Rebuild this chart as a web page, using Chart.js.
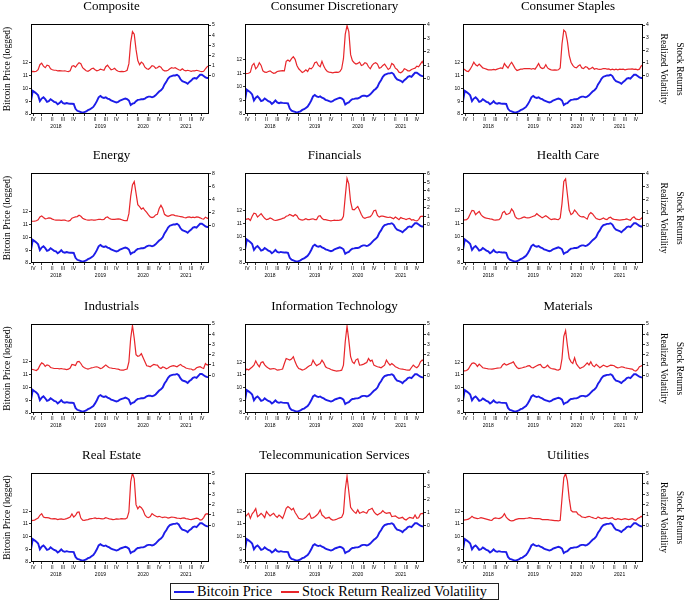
<!DOCTYPE html>
<html lang="en">
<head>
    <meta charset="UTF-8">
    <title>Bitcoin Price and Sector Stock Return Realized Volatility</title>
    <script src="https://cdn.jsdelivr.net/npm/chart.js"></script>
    <style>
        body { margin: 0; background: #fff; width: 685px; height: 601px; position: relative; overflow: hidden; }
        .panel { position: absolute; }
        #legend {
            position: absolute; left: 170px; top: 583px; width: 329px; height: 17px;
            box-sizing: border-box; border: 1.5px solid #222; display: flex; align-items: center;
            font-family: 'Liberation Serif', 'Times New Roman', serif; font-size: 14.3px; color: #000;
            white-space: nowrap;
        }
        #legend .sw { display: inline-block; height: 2px; margin: 0 3px 0 3px; }
    </style>
</head>
<body>
    <div id="legend"></div>

    <script>
        // ---- data ----
        const panelNames = ['Composite', 'Consumer Discretionary', 'Consumer Staples',
            'Energy', 'Financials', 'Health Care',
            'Industrials', 'Information Technology', 'Materials',
            'Real Estate', 'Telecommunication Services', 'Utilities'];
        const seriesLabels = ['Bitcoin Price', 'Stock Return Realized Volatility'];

        // x runs over half-month steps, 0 = left edge (late 2017), 100 = right edge (end 2021)
        const quarterPos = [1.3, 6, 12, 18, 24, 30, 36, 42, 48, 54, 60, 66, 72, 78, 84, 90, 96];
        const quarterLabels = ['IV', 'I', 'II', 'III', 'IV', 'I', 'II', 'III', 'IV', 'I', 'II', 'III', 'IV', 'I', 'II', 'III', 'IV'];
        const yearPos = [14, 39, 63, 87];
        const yearLabels = ['2018', '2019', '2020', '2021'];
        const leftTicks = [8, 9, 10, 11, 12];

        const bitcoin = [9.0,9.8,9.7,9.6,9.45,9.0,9.2,9.3,9.15,8.95,
            9.0,9.15,9.05,8.95,8.9,8.75,8.85,9.0,8.85,8.8,
            8.85,8.82,8.8,8.8,8.78,8.4,8.25,8.2,8.15,8.1,
            8.15,8.2,8.3,8.35,8.45,8.55,8.75,9.0,9.3,9.4,
            9.3,9.25,9.3,9.2,9.15,9.05,9.0,8.95,8.9,8.95,
            9.05,9.1,9.15,9.2,9.15,9.05,8.7,8.8,8.85,9.0,
            9.1,9.12,9.15,9.15,9.2,9.3,9.35,9.35,9.3,9.35,
            9.45,9.6,9.75,9.85,10.0,10.3,10.5,10.75,10.9,10.95,
            11.0,11.0,11.05,10.95,10.7,10.55,10.5,10.45,10.35,10.5,
            10.6,10.75,10.8,10.75,10.9,11.05,11.05,10.95,10.85,10.8,
            10.8];

        const volComposite = [0.42,0.45,0.42,0.45,0.6,1.1,1.25,0.95,0.8,1.05,
            1.0,0.7,0.6,0.55,0.55,0.5,0.52,0.5,0.48,0.5,
            0.45,0.42,0.5,0.95,1.0,0.85,1.1,1.3,1.2,0.8,
            0.65,0.5,0.45,0.55,0.7,0.75,0.6,0.5,0.55,0.65,
            0.6,0.55,0.9,1.05,0.8,0.6,0.65,0.75,0.55,0.45,
            0.42,0.45,0.42,0.45,0.55,1.2,3.3,4.35,4.1,2.6,
            1.5,1.1,1.35,1.2,0.85,0.7,0.65,0.8,1.0,0.95,
            0.75,0.8,0.95,0.85,0.6,0.5,0.5,0.55,0.7,0.8,
            0.75,0.8,0.7,0.6,0.55,0.7,0.55,0.5,0.55,0.5,
            0.45,0.5,0.5,0.55,0.5,0.45,0.42,0.45,0.7,0.9,
            1.0];
        const volConsDisc = [0.38,0.4,0.42,0.5,1.0,1.15,0.75,0.9,1.2,1.0,
            0.6,0.5,0.48,0.55,0.6,0.5,0.42,0.45,0.55,0.58,
            0.6,0.62,0.6,1.3,1.4,1.3,1.5,1.65,1.45,1.0,
            0.75,0.62,0.48,0.55,0.68,0.55,0.8,0.75,0.9,1.2,
            1.25,1.0,0.9,1.3,0.95,0.7,0.55,0.5,0.48,0.45,
            0.48,0.5,0.48,0.55,0.75,1.5,3.3,3.95,3.5,1.8,
            1.35,1.2,1.1,1.15,1.25,1.0,1.05,1.2,1.15,0.9,
            0.75,1.0,1.15,1.2,1.1,0.8,0.85,1.0,1.1,0.9,
            0.7,0.8,1.15,1.05,0.8,0.7,0.5,0.45,0.55,0.75,
            0.7,0.6,0.6,0.7,0.75,0.8,0.95,0.9,1.1,1.3,
            1.05];
        const volConsStaples = [0.55,0.45,0.35,0.32,0.5,0.75,1.05,0.85,0.75,0.9,
            0.75,0.6,0.55,0.5,0.45,0.45,0.45,0.48,0.45,0.5,
            0.55,0.6,0.55,0.95,0.75,0.6,0.85,1.05,0.8,0.55,
            0.4,0.45,0.5,0.5,0.55,0.55,0.55,0.55,0.5,0.55,
            0.5,0.7,0.95,0.65,0.55,0.6,0.85,0.6,0.5,0.45,
            0.42,0.45,0.42,0.45,0.6,2.5,3.6,3.45,2.7,1.6,
            1.05,0.8,0.65,0.6,0.75,0.85,0.6,0.55,0.7,0.65,
            0.5,0.55,0.65,0.5,0.55,0.5,0.48,0.5,0.55,0.55,
            0.5,0.52,0.45,0.5,0.45,0.5,0.45,0.5,0.48,0.5,
            0.45,0.48,0.5,0.5,0.52,0.48,0.5,0.45,0.5,0.75,
            0.85];
        const volEnergy = [0.6,0.62,0.65,0.7,0.85,1.3,1.45,1.2,1.0,1.05,
            1.15,1.1,0.95,0.85,0.8,0.78,0.8,0.75,0.8,0.78,
            0.7,0.65,0.75,1.1,1.2,1.3,1.35,1.55,1.4,1.1,
            0.95,0.85,0.8,0.8,0.85,0.8,0.8,0.85,0.9,0.9,
            0.85,0.9,1.2,1.3,1.05,0.95,0.9,0.9,0.95,1.0,
            0.95,0.85,0.75,0.7,0.7,1.8,4.5,6.3,6.8,5.0,
            3.2,2.9,2.5,2.7,2.3,2.0,1.6,1.3,1.2,1.3,
            1.6,1.7,2.6,3.1,2.6,1.7,1.5,1.4,1.5,1.6,
            1.6,1.5,1.45,1.4,1.35,1.3,1.2,1.15,1.25,1.3,
            1.2,1.25,1.2,1.3,1.25,1.15,1.0,0.95,1.25,1.1,
            1.0];
        const volFinancials = [0.6,0.65,0.7,0.5,1.0,1.35,1.3,0.9,1.1,1.3,
            1.0,0.75,0.6,0.65,0.8,0.7,0.55,0.5,0.55,0.6,
            0.65,0.75,0.8,1.0,1.05,1.2,1.1,1.0,1.2,1.05,
            0.7,0.6,0.55,0.6,0.7,0.6,0.6,0.65,0.7,0.6,
            0.6,1.0,1.05,0.75,0.6,0.6,0.55,0.5,0.45,0.5,
            0.55,0.5,0.5,0.55,0.6,1.0,3.3,5.45,4.8,2.7,
            1.8,1.75,1.95,2.15,1.7,1.2,0.85,0.75,0.85,0.9,
            0.95,1.2,1.65,1.7,1.1,0.9,1.0,1.0,0.95,0.9,
            0.85,0.9,0.8,0.7,0.9,0.75,0.6,0.85,0.75,0.7,
            0.6,0.7,0.75,0.55,0.6,0.5,0.45,0.6,0.95,1.0,
            0.9];
        const volHealthCare = [0.42,0.44,0.46,0.6,0.9,1.18,1.15,0.85,0.98,1.1,
            0.85,0.7,0.62,0.58,0.55,0.52,0.5,0.45,0.42,0.44,
            0.46,0.6,1.0,1.1,0.85,0.9,0.97,1.28,1.1,0.7,
            0.55,0.52,0.55,0.62,0.67,0.62,0.6,0.62,0.67,0.72,
            0.77,0.92,0.8,0.7,0.6,0.68,0.77,0.67,0.55,0.46,
            0.5,0.52,0.48,0.46,0.59,1.7,3.4,3.6,2.4,1.2,
            0.85,0.95,1.2,1.05,0.85,0.72,0.67,0.7,0.6,0.5,
            0.85,1.0,0.9,0.72,0.55,0.5,0.46,0.52,0.59,0.5,
            0.46,0.6,0.65,0.52,0.48,0.46,0.44,0.42,0.44,0.46,
            0.48,0.52,0.46,0.42,0.6,0.68,0.52,0.48,0.46,0.55,
            0.67];
        const volIndustrials = [0.6,0.55,0.5,0.45,0.6,0.95,1.2,1.1,0.85,1.0,
            0.95,0.75,0.7,0.65,0.65,0.65,0.62,0.65,0.6,0.58,
            0.55,0.58,0.7,1.05,1.0,0.95,1.3,1.35,1.14,0.85,
            0.72,0.65,0.59,0.65,0.72,0.75,0.8,0.82,0.75,0.65,
            0.7,0.85,1.0,0.85,0.72,0.7,0.65,0.65,0.6,0.59,
            0.52,0.49,0.5,0.55,0.6,1.3,3.6,4.85,3.6,2.0,
            1.85,1.9,2.1,1.7,1.3,0.92,0.88,0.82,0.95,1.05,
            1.0,0.98,0.75,0.65,0.8,0.75,0.62,0.7,0.82,0.88,
            0.92,0.88,0.82,0.95,1.05,0.9,0.82,0.7,0.65,0.62,
            0.6,0.5,0.55,0.72,0.78,0.82,0.72,0.65,1.14,0.98,
            1.08];
        const volInfoTech = [0.4,0.6,0.5,0.65,0.8,0.98,1.4,1.05,0.82,1.24,
            1.3,1.0,0.82,0.7,0.59,0.62,0.65,0.6,0.49,0.52,
            0.55,0.6,1.14,1.63,1.55,1.47,1.57,1.8,1.3,0.9,
            0.65,0.59,0.49,0.55,0.65,0.8,0.92,0.98,1.47,1.15,
            0.92,1.05,1.14,1.47,1.2,0.82,0.7,0.65,0.55,0.49,
            0.45,0.39,0.42,0.45,0.49,0.98,3.27,4.8,3.4,1.8,
            1.3,1.14,1.5,1.6,0.98,1.0,1.05,1.15,1.24,1.63,
            1.37,1.47,0.98,0.9,0.82,0.78,0.72,0.85,0.98,1.47,
            1.2,0.98,1.14,1.0,0.82,0.75,0.65,0.6,0.58,0.55,
            0.52,0.5,0.49,0.75,0.98,0.82,0.72,0.9,1.3,1.47,
            1.37];
        const volMaterials = [0.42,0.42,0.45,0.6,0.9,1.15,1.2,1.1,0.85,1.08,
            0.9,0.72,0.68,0.65,0.62,0.6,0.59,0.62,0.65,0.68,
            0.7,0.72,1.0,1.14,0.98,1.05,1.14,1.2,1.3,0.98,
            0.75,0.65,0.68,0.72,0.78,0.82,0.9,0.92,0.75,0.72,
            0.82,0.92,1.0,1.05,0.8,0.72,0.8,0.98,0.75,0.65,
            0.62,0.59,0.52,0.49,0.59,1.6,3.8,4.35,2.9,1.65,
            1.3,1.14,1.7,1.1,0.85,0.65,0.75,0.82,1.0,1.2,
            1.0,1.3,0.95,0.82,1.05,0.9,0.72,0.85,0.98,0.9,
            0.82,0.9,0.98,0.95,0.92,0.78,0.72,0.75,0.82,0.78,
            0.72,0.68,0.65,0.62,0.59,0.45,0.39,0.55,0.82,0.9,
            0.98];
        const volRealEstate = [0.42,0.48,0.5,0.6,0.7,0.97,1.13,0.8,0.74,0.74,
            0.72,0.65,0.62,0.65,0.62,0.55,0.6,0.62,0.58,0.6,
            0.65,0.72,0.8,1.1,0.8,0.95,1.25,1.29,0.7,0.5,
            0.48,0.52,0.55,0.62,0.65,0.68,0.72,0.65,0.68,0.65,
            0.62,0.65,0.74,0.68,0.62,0.6,0.55,0.58,0.62,0.6,
            0.62,0.65,0.62,0.62,0.72,1.3,4.2,5.06,4.5,2.0,
            1.6,1.84,1.7,1.45,1.0,0.8,0.74,0.85,1.13,1.0,
            0.9,0.81,0.87,0.8,0.74,0.8,0.78,0.7,0.75,0.8,
            0.78,0.75,0.7,0.68,0.65,0.7,0.72,0.65,0.62,0.58,
            0.55,0.6,0.65,0.7,0.65,0.5,0.55,0.75,1.06,1.13,
            0.97];
        const volTelecom = [0.64,0.8,0.94,0.56,0.9,1.07,1.3,0.69,0.8,0.94,
            0.8,0.61,1.07,0.9,0.74,0.85,0.94,0.75,0.64,0.81,
            0.7,0.56,0.9,1.32,1.45,1.35,1.2,1.32,1.0,0.8,
            0.56,0.52,0.48,0.55,0.64,0.8,0.94,0.56,0.6,0.69,
            0.8,0.94,1.2,0.81,0.7,0.56,0.6,0.64,0.5,0.43,
            0.45,0.48,0.55,0.6,0.64,0.94,2.73,3.75,2.6,1.4,
            1.2,1.05,0.94,1.2,0.94,1.0,1.07,1.0,0.94,1.2,
            1.25,1.32,1.07,0.9,0.81,0.9,0.99,1.15,1.0,0.94,
            0.97,0.99,0.69,0.72,0.74,0.65,0.56,0.6,0.64,0.5,
            0.43,0.55,0.64,0.6,0.56,0.81,0.56,0.6,0.89,0.94,
            0.89];
        const volUtilities = [0.48,0.52,0.55,0.6,0.7,0.87,0.74,0.7,0.65,0.68,
            0.74,0.7,0.65,0.6,0.55,0.5,0.48,0.65,0.71,0.68,
            0.65,0.72,0.85,1.13,0.8,0.6,0.48,0.42,0.45,0.55,
            0.6,0.65,0.65,0.64,0.65,0.68,0.7,0.74,0.7,0.66,
            0.65,0.65,0.66,0.62,0.55,0.56,0.55,0.55,0.52,0.5,
            0.48,0.46,0.45,0.42,0.48,2.6,4.6,5.0,4.3,2.6,
            1.45,1.3,1.29,1.29,1.05,0.97,0.81,0.78,0.74,0.82,
            0.87,0.8,0.74,0.68,0.65,0.81,0.72,0.65,0.7,0.74,
            0.7,0.65,0.7,0.74,0.6,0.55,0.65,0.6,0.55,0.6,
            0.65,0.6,0.55,0.6,0.65,0.55,0.48,0.65,0.74,0.87,
            0.74];

        const volatility = [volComposite, volConsDisc, volConsStaples, volEnergy, volFinancials, volHealthCare,
            volIndustrials, volInfoTech, volMaterials, volRealEstate, volTelecom, volUtilities];

        // axis ranges of each panel
        const leftMax = [15, 14.65, 15, 15, 14.9, 14.9, 14.95, 15, 15, 15, 15, 15];
        const rightMin = [-3.75, -2.6, -3.05, -5.9, -4.5, -2.87, -3.7, -3.7, -3.7, -3.55, -2.75, -3.55];
        const rightMax = [5.1, 4.07, 4.08, 8.15, 6.08, 4.05, 5.0, 5.0, 5.0, 5.06, 4.0, 5.06];
        const rightTop = [5, 4, 4, 8, 6, 4, 5, 5, 5, 5, 4, 5];
        const rightStep = [1, 1, 1, 2, 1, 1, 1, 1, 1, 1, 1, 1];

        // ---- layout ----
        const plotLeft = [31, 245, 463], plotWidth = [178, 179, 180];
        const plotTop = [24, 173, 324, 473], plotHeight = [90, 90, 89, 89];
        const titleSpace = 26, axisSpace = 18;
        const blue = '#1c1ce8', red = '#e8262b';
        const serif = "'Liberation Serif', 'Times New Roman', serif";

        Chart.defaults.font.family = "'Liberation Sans', Arial, sans-serif";
        Chart.defaults.color = '#000';

        // box round the plot area
        const framePlugin = {
            id: 'frame',
            afterDraw(chart) {
                const a = chart.chartArea, ctx = chart.ctx;
                ctx.save();
                ctx.strokeStyle = '#000';
                ctx.lineWidth = 1;
                ctx.strokeRect(Math.round(a.left) + 0.5, Math.round(a.top) + 0.5,
                    Math.round(a.right - a.left) - 1, Math.round(a.bottom - a.top) - 1);
                ctx.restore();
            }
        };

        // year names centred under their quarters, placed with the x scale
        const yearPlugin = {
            id: 'years',
            afterDraw(chart) {
                const xs = chart.scales.x, ctx = chart.ctx;
                ctx.save();
                ctx.font = "5px 'Liberation Sans', Arial, sans-serif";
                ctx.fillStyle = '#000';
                ctx.textAlign = 'center';
                ctx.textBaseline = 'middle';
                yearPos.forEach((v, k) => {
                    ctx.fillText(yearLabels[k], xs.getPixelForValue(v), chart.chartArea.bottom + 12.5);
                });
                ctx.restore();
            }
        };

        const tickFont = { size: 5 };
        const tickGrid = { drawOnChartArea: false, tickLength: 2, color: '#000', lineWidth: 0.8 };

        panelNames.forEach((name, p) => {
            const r = Math.floor(p / 3), c = p % 3;
            const L = c === 0 ? 31 : 14, R = c === 2 ? 44 : 14;
            const w = L + plotWidth[c] + R, h = titleSpace + plotHeight[r] + axisSpace;

            const div = document.createElement('div');
            div.className = 'panel';
            div.style.left = (plotLeft[c] - L) + 'px';
            div.style.top = (plotTop[r] - titleSpace) + 'px';
            const cv = document.createElement('canvas');
            cv.width = w; cv.height = h;
            cv.style.width = w + 'px'; cv.style.height = h + 'px';
            div.appendChild(cv);
            document.body.appendChild(div);

            new Chart(cv, {
                type: 'line',
                data: {
                    datasets: [
                        {
                            label: seriesLabels[0],
                            data: bitcoin.map((v, i) => ({ x: i, y: v })),
                            yAxisID: 'y', borderColor: blue, borderWidth: 1.9,
                            pointRadius: 0, tension: 0
                        },
                        {
                            label: seriesLabels[1],
                            data: volatility[p].map((v, i) => ({ x: i, y: v })),
                            yAxisID: 'y1', borderColor: red, borderWidth: 1.2,
                            pointRadius: 0, tension: 0
                        }
                    ]
                },
                options: {
                    responsive: false,
                    animation: false,
                    layout: { padding: 0 },
                    plugins: {
                        legend: { display: false },
                        tooltip: { enabled: false },
                        title: {
                            display: true, text: name, color: '#000',
                            font: { family: serif, size: 13, weight: 'normal' },
                            padding: { top: 1, bottom: 9.4 }
                        }
                    },
                    scales: {
                        x: {
                            type: 'linear', min: 0, max: 100,
                            afterBuildTicks: s => { s.ticks = quarterPos.map(v => ({ value: v })); },
                            afterFit: s => { s.height = axisSpace; },
                            ticks: { callback: (v, i) => quarterLabels[i], autoSkip: false, maxRotation: 0, font: tickFont, padding: 0.5 },
                            grid: tickGrid,
                            border: { display: false }
                        },
                        y: {
                            position: 'left', min: 8, max: leftMax[p],
                            afterBuildTicks: s => { s.ticks = leftTicks.map(v => ({ value: v })); },
                            afterFit: s => { s.width = L; },
                            ticks: { font: tickFont, padding: 1 },
                            grid: tickGrid,
                            border: { display: false },
                            title: {
                                display: c === 0, text: 'Bitcoin Price (logged)', color: '#000',
                                font: { family: serif, size: 9.5 }, padding: { top: 2, bottom: 0 }
                            }
                        },
                        y1: {
                            position: 'right', min: rightMin[p], max: rightMax[p],
                            afterBuildTicks: s => {
                                const t = [];
                                for (let v = 0; v <= rightTop[p]; v += rightStep[p]) t.push({ value: v });
                                s.ticks = t;
                            },
                            afterFit: s => { s.width = R; },
                            ticks: { font: tickFont, padding: 1 },
                            grid: tickGrid,
                            border: { display: false },
                            title: {
                                display: c === 2, text: ['Stock Returns', 'Realized Volatility'], color: '#000',
                                font: { family: serif, size: 9.5, lineHeight: 1.65 }, padding: { top: 0, bottom: 0 }
                            }
                        }
                    }
                },
                plugins: [framePlugin, yearPlugin]
            });
        });

        // legend box under the grid
        const legend = document.getElementById('legend');
        [blue, red].forEach((col, k) => {
            const sw = document.createElement('span');
            sw.className = 'sw';
            sw.style.background = col;
            sw.style.width = (k === 0 ? 20 : 18) + 'px';
            if (k === 1) sw.style.marginLeft = '9px';
            legend.appendChild(sw);
            legend.appendChild(document.createTextNode(seriesLabels[k]));
        });
    </script>
</body>
</html>
